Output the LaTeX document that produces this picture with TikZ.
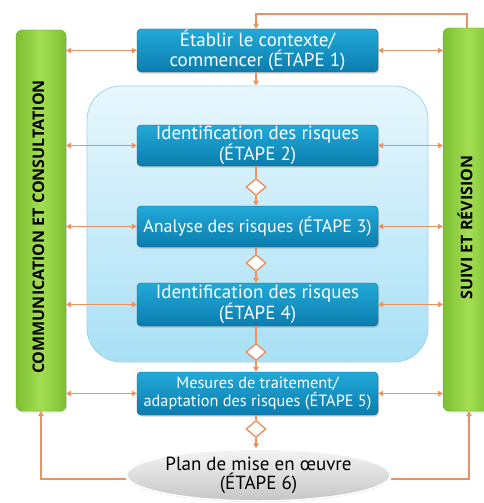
\documentclass[tikz,border=0pt]{standalone}
\usepackage{fontspec}
\setmainfont{PT Sans}
\newfontfamily\barfont{Open Sans}
\usetikzlibrary{shapes.geometric,shadows,arrows.meta}
\definecolor{arrc}{HTML}{EA9262}
\definecolor{boxtop}{HTML}{22A9D8}
\definecolor{boxbot}{HTML}{0B7DAE}
\definecolor{grmid}{HTML}{A2DE52}
\definecolor{gredge}{HTML}{7DBF32}
\definecolor{paneltop}{HTML}{E8F7FD}
\definecolor{panelbot}{HTML}{A8E0F5}
\definecolor{panelline}{HTML}{9FD6EC}
\begin{document}
\begin{tikzpicture}[x=1pt,y=-1pt,
  stepbox/.style={rounded corners=4pt, minimum width=241pt, inner sep=0pt,
    top color=boxtop, bottom color=boxbot, draw=boxbot!80!black, line width=0.4pt,
    drop shadow={opacity=0.35, shadow xshift=1pt, shadow yshift=-1.5pt},
    text=white, align=center, font=\fontsize{19}{19}\selectfont},
  sidebar/.style={rounded corners=6pt, minimum width=50pt, inner sep=0pt,
    left color=gredge, right color=gredge, middle color=grmid, draw=gredge!85!black, line width=0.3pt,
    drop shadow={opacity=0.25, shadow xshift=1pt, shadow yshift=-1.5pt}},
  bartext/.style={rotate=90, font=\barfont\bfseries\fontsize{16}{16}\selectfont, text=black, inner sep=0pt},
  conn/.style={draw=arrc, line width=1.4pt},
  arr/.style={conn, -{Triangle[length=5pt,width=5.5pt]}},
  arrtwo/.style={conn, {Triangle[length=5pt,width=5.5pt]}-{Triangle[length=5pt,width=5.5pt]}},
  dia/.style={diamond, draw=arrc, line width=1.4pt, fill=white, minimum width=20pt, minimum height=17pt, inner sep=0pt, aspect=1.2}
]
\useasboundingbox (0,0) rectangle (484,503);
\clip (0,0) rectangle (484,503);
\fill[white] (0,0) rectangle (484,503);

% panel
\node[draw=panelline, line width=0.8pt, rounded corners=34pt, top color=paneltop, bottom color=panelbot,
  minimum width=341pt, minimum height=276pt, inner sep=0pt] (panel) at (257.5,224) {};

% side bars
\node[sidebar, minimum height=381pt] (lbar) at (41,220.5) {};
\node[bartext] (ltxt) at (38.5,227) {COMMUNICATION ET CONSULTATION};
\node[sidebar, minimum height=383pt] (rbar) at (468,219.5) {};
\node[bartext] (rtxt) at (465,227.5) {SUIVI ET RÉVISION};

% steps
\node[stepbox, minimum height=43pt] (s1) at (257.5,50.5) {Établir le contexte/\\commencer (ÉTAPE 1)};
\node[stepbox, minimum height=41pt] (s2) at (257.5,145.5) {Identification des risques\\(ÉTAPE 2)};
\node[stepbox, minimum height=41pt, font=\fontsize{18}{18}\selectfont] (s3) at (257.5,226.5) {Analyse des risques (ÉTAPE 3)};
\node[stepbox, minimum height=43pt] (s4) at (257.5,304.5) {Identification des risques\\(ÉTAPE 4)};
\node[stepbox, minimum height=43pt, font=\fontsize{16.3}{18}\selectfont] (s5) at (257.5,393.5) {Mesures de traitement/\\adaptation des risques (ÉTAPE 5)};
\node[ellipse, minimum width=243pt, minimum height=52pt, inner sep=0pt, draw=white, line width=1.5pt,
  top color=gray!8!white, bottom color=gray!45!white, align=center,
  drop shadow={opacity=0.3, shadow xshift=0pt, shadow yshift=-1pt},
  font=\fontsize{19}{19}\selectfont] (s6) at (258.5,475) {Plan de mise en œuvre\\(ÉTAPE 6)};

% diamonds
\node[dia] (d1) at (256,187) {};
\node[dia] (d2) at (256,263) {};
\node[dia] (d3) at (256,352) {};
\node[dia] (d4) at (256,429) {};

% vertical flow
\draw[conn] (s2.south -| d1) -- (d1.north);
\draw[arr] (d1.south) -- (s3.north -| d1);
\draw[conn] (s3.south -| d2) -- (d2.north);
\draw[arr] (d2.south) -- (s4.north -| d2);
\draw[conn] (s4.south -| d3) -- (d3.north);
\draw[arr] (d3.south) -- (s5.north -| d3);
\draw[conn] (s5.south -| d4) -- (d4.north);
\draw[arr] (d4.south) -- (s6.north -| d4);
\draw[arr] (s1.south -| d1) -- (panel.north -| d1);

% top loop
\coordinate (tc) at (467,14);
\draw[arr] (rbar.north -| tc) -- (tc) -| (s1.north -| d1);

% side arrows
\foreach \s in {s1,s2,s3,s4,s5}{
  \draw[arrtwo] (lbar.east |- \s.center) -- (\s.west);
  \draw[arrtwo] (\s.east) -- (rbar.west |- \s.center);
}

% bottom loops
\coordinate (bl) at (41,479);
\coordinate (br) at (469,479);
\draw[arr] (s6.west |- bl) -- (bl) -- (lbar.south -| bl);
\draw[arr] (s6.east |- br) -- (br) -- (rbar.south -| br);
\end{tikzpicture}
\end{document}
